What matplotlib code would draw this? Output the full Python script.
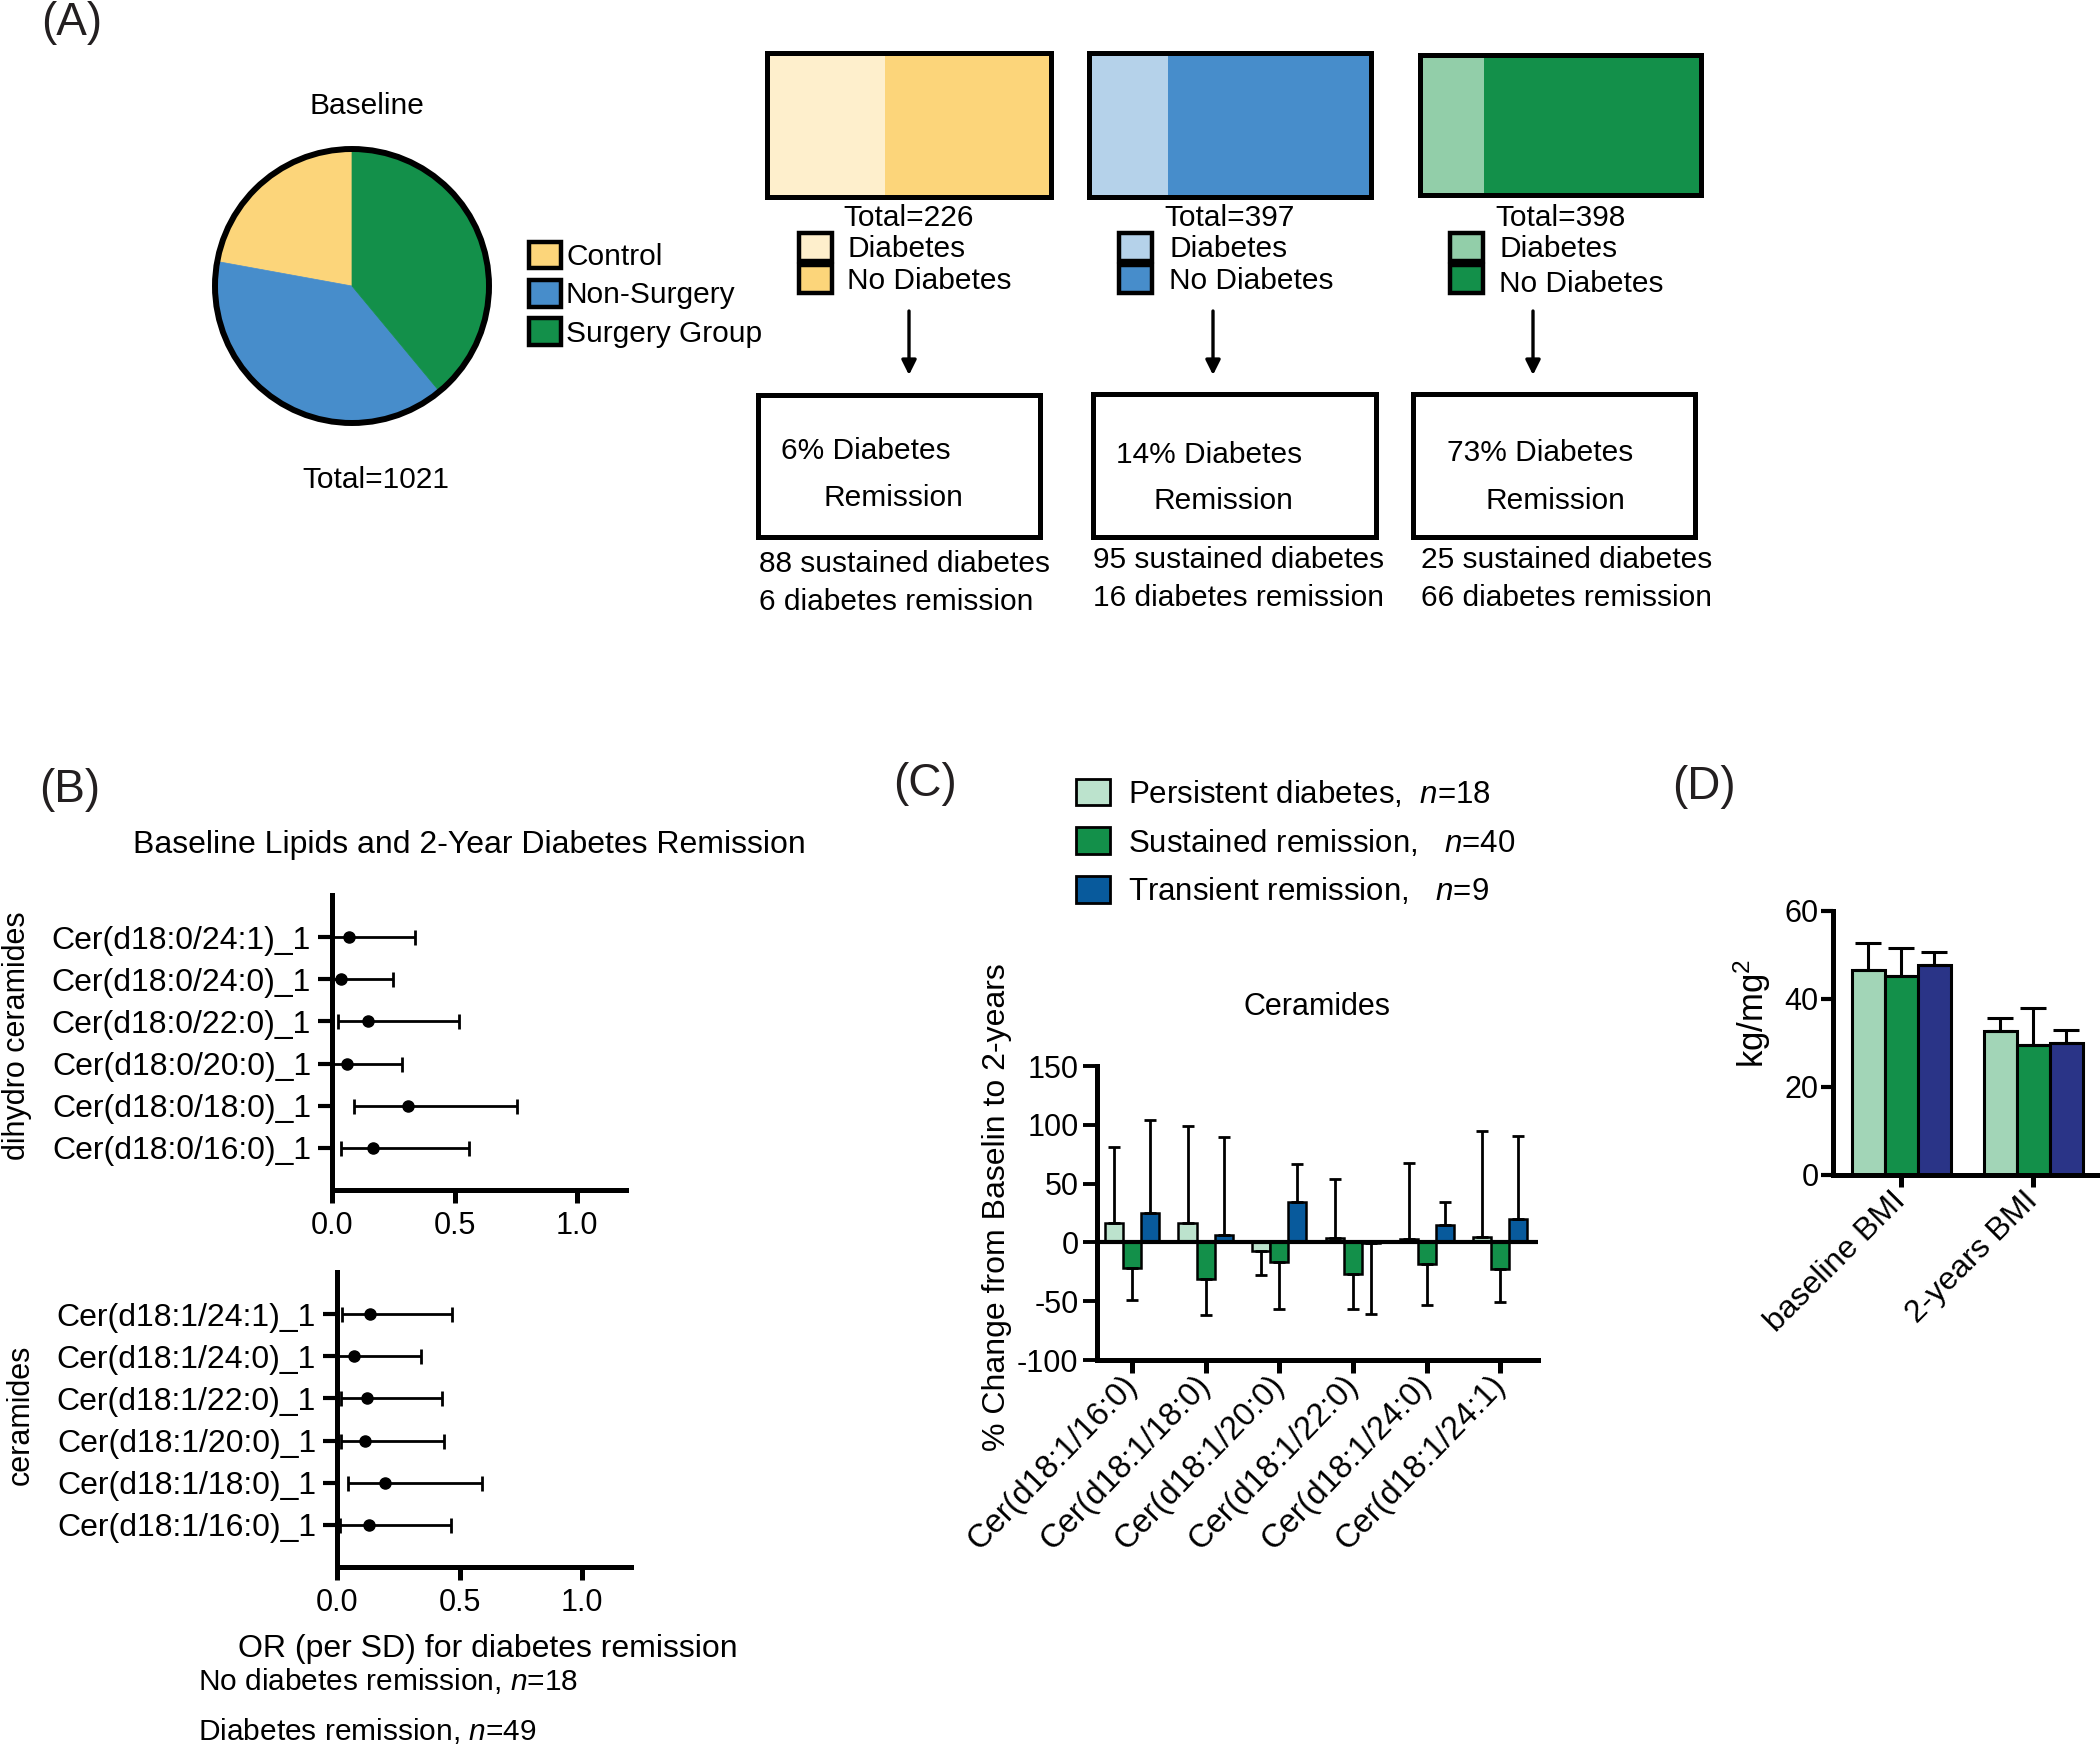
import matplotlib
matplotlib.use('Agg')
import matplotlib.pyplot as plt
from matplotlib.patches import Rectangle, Circle
import numpy as np

plt.rcParams['font.family'] = ['Liberation Sans', 'DejaVu Sans']
plt.rcParams['mathtext.fontset'] = 'custom'
plt.rcParams['mathtext.rm'] = 'Liberation Sans'
plt.rcParams['mathtext.it'] = 'Liberation Sans:italic'
plt.rcParams['axes.unicode_minus'] = False

W, H, DPI = 2100, 1745, 100
FS = 22

# ---------------- data ----------------
groups = ['Control', 'Non-Surgery', 'Surgery Group']
group_totals = [226, 397, 398]
baseline_total = 1021
diabetes_counts = [94, 111, 91]
remission_pct = [6, 14, 73]
sustained_diabetes = [88, 95, 25]
diabetes_remission = [6, 16, 66]

dihydro_labels = ['Cer(d18:0/16:0)_1', 'Cer(d18:0/18:0)_1', 'Cer(d18:0/20:0)_1',
                  'Cer(d18:0/22:0)_1', 'Cer(d18:0/24:0)_1', 'Cer(d18:0/24:1)_1']
dihydro_or = [0.169, 0.309, 0.063, 0.146, 0.037, 0.071]
dihydro_lo = [0.037, 0.091, 0.0, 0.026, 0.0, 0.0]
dihydro_hi = [0.56, 0.754, 0.287, 0.52, 0.25, 0.338]

cer_labels = ['Cer(d18:1/16:0)_1', 'Cer(d18:1/18:0)_1', 'Cer(d18:1/20:0)_1',
              'Cer(d18:1/22:0)_1', 'Cer(d18:1/24:0)_1', 'Cer(d18:1/24:1)_1']
cer_or = [0.129, 0.197, 0.116, 0.122, 0.071, 0.135]
cer_lo = [0.013, 0.043, 0.016, 0.016, 0.0, 0.02]
cer_hi = [0.465, 0.593, 0.435, 0.428, 0.343, 0.471]
or_ticks = [0.0, 0.5, 1.0]
or_ticklabels = ['0.0', '0.5', '1.0']

ceramide_species = ['Cer(d18:1/16:0)', 'Cer(d18:1/18:0)', 'Cer(d18:1/20:0)',
                    'Cer(d18:1/22:0)', 'Cer(d18:1/24:0)', 'Cer(d18:1/24:1)']
persistent_mean = [16.5, 16.5, -7.0, 4.0, 3.0, 5.0]
persistent_sd = [65.0, 82.8, 21.0, 49.7, 64.6, 89.4]
sustained_mean = [-22.0, -31.0, -16.5, -27.0, -18.5, -22.7]
sustained_sd = [27.0, 31.0, 40.0, 29.5, 34.5, 27.8]
transient_mean = [25.0, 6.5, 34.7, -0.5, 15.2, 20.0]
transient_sd = [78.7, 83.5, 32.3, 60.0, 19.2, 70.7]
series_labels = ['Persistent diabetes,  $n$=18', 'Sustained remission,   $n$=40',
                 'Transient remission,   $n$=9']

bmi_labels = ['baseline BMI', '2-years BMI']
bmi_persistent = [46.5, 32.8]
bmi_persistent_sd = [6.3, 2.8]
bmi_sustained = [45.3, 29.5]
bmi_sustained_sd = [6.3, 8.5]
bmi_transient = [47.7, 30.0]
bmi_transient_sd = [3.0, 3.0]

# colours
pie_colors = ['#FCD57A', '#478DCB', '#13904A']
light_colors = ['#FEEFCC', '#B5D2EA', '#92CEA9']
c_colors = ['#BCE3CD', '#13904A', '#085A9C']
d_colors = ['#A2D5B7', '#13904A', '#2A3487']
LBL = '#231f20'

# ---------------- figure ----------------
fig = plt.figure(figsize=(W / DPI, H / DPI), dpi=DPI)


def axpx(x0, y0, x1, y1):
    return fig.add_axes([x0 / W, 1 - y1 / H, (x1 - x0) / W, (y1 - y0) / H])


ov = axpx(0, 0, W, H)
ov.set_xlim(0, W)
ov.set_ylim(H, 0)
ov.axis('off')
ov.set_zorder(10)


def T(x, y, s, **kw):
    kw.setdefault('fontsize', FS)
    kw.setdefault('va', 'baseline')
    kw.setdefault('color', 'k')
    ov.text(x, y, s, **kw)


def R(x0, y0, x1, y1, fc, lw=3.0, ec='k', fill=True):
    ov.add_patch(Rectangle((x0, y0), x1 - x0, y1 - y0, facecolor=fc if fill else 'none',
                           edgecolor=ec, lw=lw, fill=fill))


# panel letters
T(41, 35, '(A)', fontsize=33, color=LBL)
T(39, 802, '(B)', fontsize=33, color=LBL)
T(893, 796, '(C)', fontsize=33, color=LBL)
T(1672, 799, '(D)', fontsize=33, color=LBL)

# ---------------- Panel A ----------------
FA = 21.5
axp = axpx(352 - 137, 286 - 137, 352 + 137, 286 + 137)
wedges, _ = axp.pie(group_totals, colors=pie_colors, startangle=90, counterclock=True,
                    radius=1)
for wdg, c in zip(wedges, pie_colors):
    wdg.set_edgecolor(c)
    wdg.set_linewidth(0.5)
axp.add_patch(Circle((0, 0), 1, fill=False, ec='k', lw=4.3, clip_on=False))
axp.set_xlim(-1, 1)
axp.set_ylim(-1, 1)
axp.set_aspect('equal')
axp.axis('off')
T(367, 114, 'Baseline', ha='center', fontsize=FA)
T(376, 488, f'Total={baseline_total}', ha='center', fontsize=FA)

leg_sq_y = [(242, 268), (280, 307), (318, 345)]
leg_txt_y = [265, 303, 342]
for g, c, (ya, yb), yt in zip(groups, pie_colors, leg_sq_y, leg_txt_y):
    R(529, ya, 561, yb, c, lw=3.2)
    T(566, yt, g, fontsize=FA)

rect_boxes = [(767, 53, 1051, 197), (1089, 53, 1371, 197), (1420, 55, 1701, 195)]
sq_x = [799, 1119, 1450]
txt_x = [847, 1169, 1499]
leg2_y = [(257, 289), (257, 289), (257, 292)]
arrow_x = [909, 1213, 1533]
boxes = [(758, 395, 1040, 537), (1093, 394, 1376, 537), (1413, 394, 1695, 537)]
line1 = [(781, 459), (1116, 463), (1447, 461)]
line2 = [(823, 506), (1153, 509), (1486, 509)]
below_x = [759, 1093, 1421]
below_y = [(572, 610), (568, 606), (568, 606)]

for i, (x0, y0, x1, y1) in enumerate(rect_boxes):
    a = axpx(x0, y0, x1, y1)
    a.barh([0], [diabetes_counts[i]], height=1, color=light_colors[i], lw=0)
    a.barh([0], [group_totals[i] - diabetes_counts[i]], left=[diabetes_counts[i]],
           height=1, color=pie_colors[i], lw=0)
    a.set_xlim(0, group_totals[i])
    a.set_ylim(-0.5, 0.5)
    a.set_xticks([])
    a.set_yticks([])
    for sp in a.spines.values():
        sp.set_linewidth(3.6)
    T((x0 + x1) / 2, 226, f'Total={group_totals[i]}', ha='center', fontsize=FA)
    # legend
    R(sq_x[i], 233, sq_x[i] + 33, 261, light_colors[i], lw=3.2)
    R(sq_x[i], 265, sq_x[i] + 33, 293, pie_colors[i], lw=3.2)
    T(txt_x[i], leg2_y[i][0], 'Diabetes', fontsize=FA)
    T(txt_x[i], leg2_y[i][1], 'No Diabetes', fontsize=FA)
    # arrow
    ov.annotate('', xy=(arrow_x[i], 375), xytext=(arrow_x[i], 311),
                arrowprops=dict(arrowstyle='-|>', color='k', lw=2.4,
                                mutation_scale=22, shrinkA=0, shrinkB=0))
    # box
    bx0, by0, bx1, by1 = boxes[i]
    R(bx0, by0, bx1, by1, 'white', lw=3.6)
    T(line1[i][0], line1[i][1], f'{remission_pct[i]}% Diabetes', fontsize=FA)
    T(line2[i][0], line2[i][1], 'Remission', fontsize=FA)
    T(below_x[i], below_y[i][0], f'{sustained_diabetes[i]} sustained diabetes', fontsize=FA)
    T(below_x[i], below_y[i][1], f'{diabetes_remission[i]} diabetes remission', fontsize=FA)

# ---------------- Panel B ----------------
T(469, 853, 'Baseline Lipids and 2-Year Diabetes Remission', ha='center', fontsize=23)


def forest(box, labels, est, lo, hi):
    a = axpx(*box)
    est = np.array(est)
    lo = np.array(lo)
    hi = np.array(hi)
    y = np.arange(1, len(labels) + 1)
    a.errorbar(est, y, xerr=[est - lo, hi - est], fmt='o', color='k', ms=8,
               elinewidth=2.0, capsize=5.4, capthick=2.0)
    a.set_ylim(0, 7)
    a.set_xlim(0, 1.2)
    a.set_yticks(y)
    a.set_yticklabels(labels, fontsize=23)
    a.set_xticks(or_ticks)
    a.set_xticklabels(or_ticklabels, fontsize=FS)
    for s in ['top', 'right']:
        a.spines[s].set_visible(False)
    for s in ['left', 'bottom']:
        a.spines[s].set_linewidth(3.6)
    a.tick_params(axis='y', length=10, width=3.0, pad=5)
    a.tick_params(axis='x', length=9, width=3.6, pad=6)
    a.patch.set_alpha(0)
    return a


forest((332, 895, 626, 1190), dihydro_labels, dihydro_or, dihydro_lo, dihydro_hi)
forest((337, 1272, 631, 1567), cer_labels, cer_or, cer_lo, cer_hi)
T(17, 1036, 'dihydro ceramides', rotation=90, ha='center', va='center', fontsize=FS)
T(21, 1415, 'ceramides', rotation=90, ha='center', va='center', fontsize=FS)
T(238, 1657, 'OR (per SD) for diabetes remission', fontsize=23)
T(198, 1690, 'No diabetes remission, $n$=18', fontsize=FA)
T(198, 1740, 'Diabetes remission, $n$=49', fontsize=FA)

# ---------------- Panel C ----------------
axc = axpx(1096.5, 1066, 1538, 1360)
xc = np.arange(len(ceramide_species))
bw = 0.245
c_series = [(persistent_mean, persistent_sd), (sustained_mean, sustained_sd),
            (transient_mean, transient_sd)]
for k, ((m, s), col) in enumerate(zip(c_series, c_colors)):
    m = np.array(m)
    s = np.array(s)
    lower = np.where(m < 0, s, 0.0)
    upper = np.where(m >= 0, s, 0.0)
    axc.bar(xc + (k - 1) * bw, m, bw, color=col, edgecolor='k', lw=1.8,
            yerr=[lower, upper], capsize=4,
            error_kw=dict(elinewidth=2.0, capthick=2.0, ecolor='k'))
axc.axhline(0, color='k', lw=3.0, zorder=3)
axc.set_ylim(-100, 150)
axc.set_xlim(-0.48, 5.51)
axc.set_yticks([-100, -50, 0, 50, 100, 150])
axc.tick_params(axis='y', labelsize=FS, length=10, width=2.8, pad=3)
axc.set_xticks(xc)
axc.set_xticklabels(ceramide_species, rotation=46, ha='right', va='center',
                    rotation_mode='anchor', fontsize=23.5)
axc.tick_params(axis='x', length=9.5, width=3.6, pad=5)
for s in ['top', 'right']:
    axc.spines[s].set_visible(False)
for s in ['left', 'bottom']:
    axc.spines[s].set_linewidth(3.6)
axc.set_ylabel('% Change from Baselin to 2-years', fontsize=23)
axc.yaxis.set_label_coords(-0.192, 0.52)
axc.patch.set_alpha(0)
T(1317, 1015, 'Ceramides', ha='center', fontsize=FS)
c_leg_y = [(779, 805, 803), (827, 854, 852), (876, 903, 900)]
for lab, col, (ya, yb, yt) in zip(series_labels, c_colors, c_leg_y):
    R(1076, ya, 1110, yb, col, lw=2.0)
    T(1128, yt, lab, fontsize=22.5)

# ---------------- Panel D ----------------
axd = axpx(1833, 911, 2098, 1175)
xd = np.arange(len(bmi_labels))
dw = 0.25
d_series = [(bmi_persistent, bmi_persistent_sd), (bmi_sustained, bmi_sustained_sd),
            (bmi_transient, bmi_transient_sd)]
for k, ((m, s), col) in enumerate(zip(d_series, d_colors)):
    m = np.array(m)
    s = np.array(s)
    axd.bar(xd + (k - 1) * dw, m, dw, color=col, edgecolor='k', lw=2.2,
            yerr=[np.zeros_like(s), s], capsize=9.5,
            error_kw=dict(elinewidth=2.2, capthick=2.2, ecolor='k'))
axd.set_ylim(0, 60)
axd.set_xlim(-0.515, 1.49)
axd.set_yticks([0, 20, 40, 60])
axd.tick_params(axis='y', labelsize=FS, length=8.5, width=3.0, pad=2)
axd.set_xticks(xd)
axd.set_xticklabels(bmi_labels, rotation=45, ha='right', va='center',
                    rotation_mode='anchor', fontsize=23)
axd.tick_params(axis='x', length=8.5, width=3.6, pad=7)
for s in ['top', 'right']:
    axd.spines[s].set_visible(False)
for s in ['left', 'bottom']:
    axd.spines[s].set_linewidth(3.6)
axd.set_ylabel('kg/mg$^2$', fontsize=25)
axd.yaxis.set_label_coords(-0.226, 0.614)
axd.patch.set_alpha(0)

fig.savefig('out.png', dpi=DPI)
